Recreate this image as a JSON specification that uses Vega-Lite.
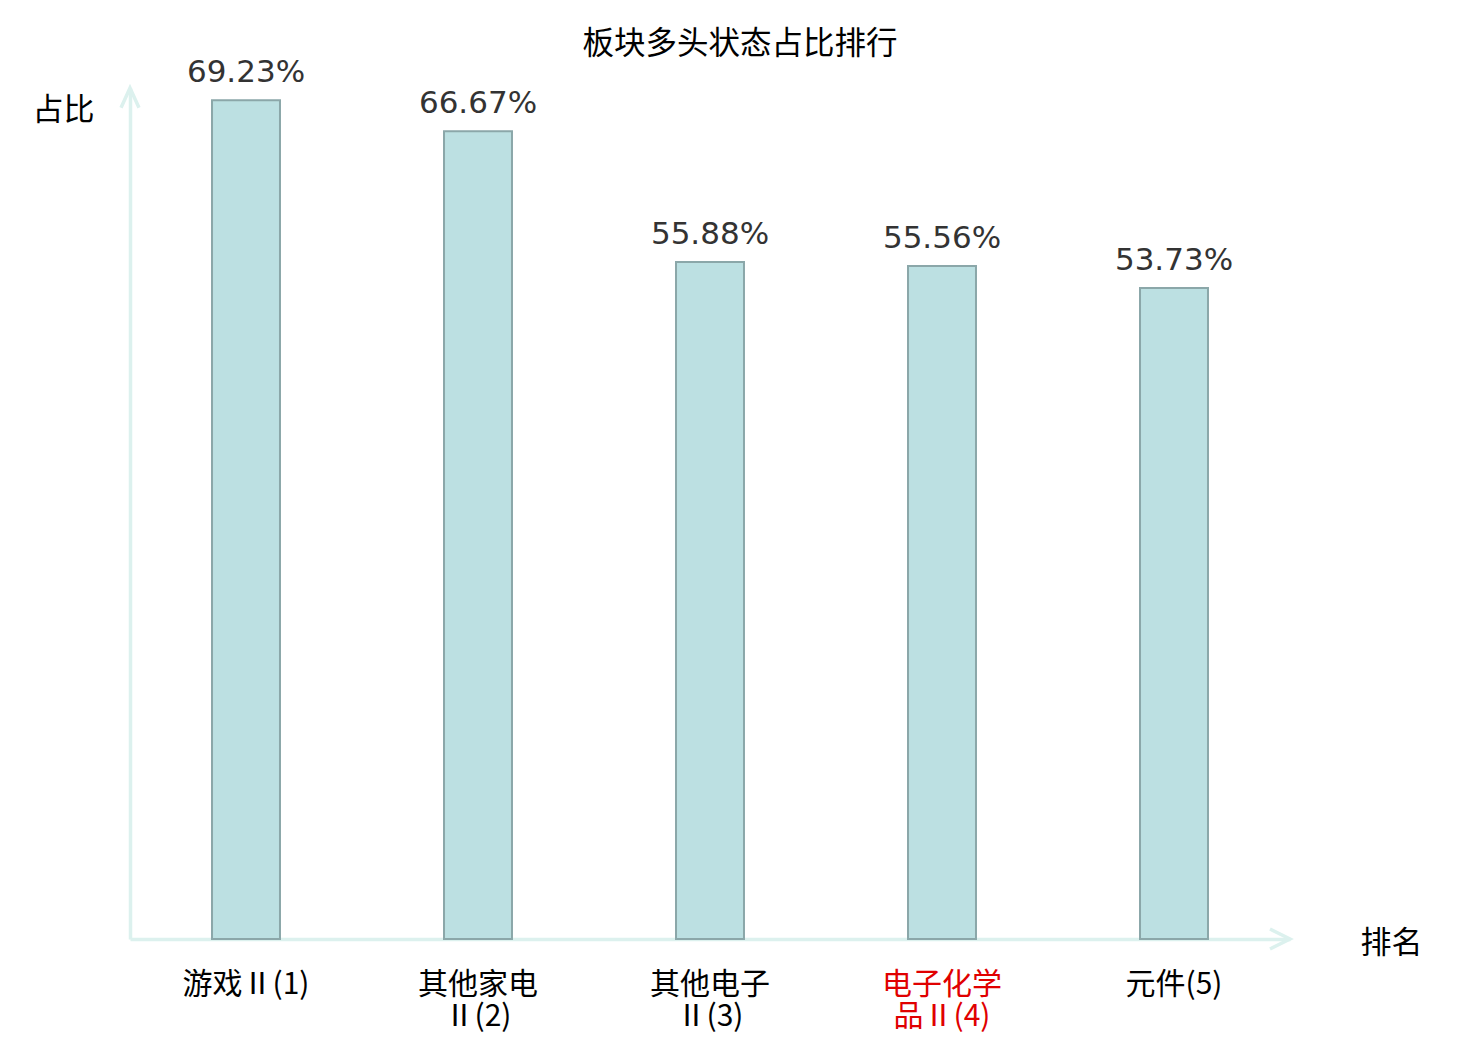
{
  "$schema": "https://vega.github.io/schema/vega-lite/v6.json",
  "autosize": "none",
  "width": 1160,
  "height": 851,
  "padding": {"left": 130, "top": 88, "right": 190, "bottom": 101},
  "background": "white",
  "config": {"view": {"stroke": null}, "font": "Noto Sans CJK SC"},
  "title": {
    "text": "板块多头状态占比排行",
    "anchor": "middle",
    "dx": 30,
    "fontSize": 31.5,
    "fontWeight": "normal",
    "font": "Noto Sans CJK SC",
    "color": "#000000",
    "offset": -3
  },
  "data": {
    "values": [
      {"name": "游戏Ⅱ(1)", "value": 69.23, "highlight": false},
      {"name": "其他家电Ⅱ(2)", "value": 66.67, "highlight": false},
      {"name": "其他电子Ⅱ(3)", "value": 55.88, "highlight": false},
      {"name": "电子化学品Ⅱ(4)", "value": 55.56, "highlight": true},
      {"name": "元件(5)", "value": 53.73, "highlight": false}
    ]
  },
  "layer": [
    {
      "mark": {"type": "bar", "fill": "#bce0e2", "stroke": "#8ba7a9", "strokeWidth": 2},
      "encoding": {
        "x": {
          "field": "name",
          "type": "nominal",
          "sort": null,
          "scale": {"paddingInner": 0.707, "paddingOuter": 0.3535},
          "axis": {
            "title": "排名",
            "titleFont": "Noto Sans CJK SC",
            "titleFontSize": 31,
            "titleFontWeight": "normal",
            "titleColor": "#000000",
            "titleAngle": 0,
            "titleAlign": "center",
            "titleBaseline": "middle",
            "titleX": 1261,
            "titleY": 4,
            "domainColor": "#dcf1ee",
            "domainWidth": 3.5,
            "ticks": false,
            "labelAngle": 0,
            "labelFont": "Noto Sans CJK SC",
            "labelFontSize": 30,
            "labelColor": {"condition": {"test": "datum.value == '电子化学品Ⅱ(4)'", "value": "#e00000"}, "value": "#000000"},
            "labelPadding": 30,
            "labelLineHeight": 32,
            "labelOverlap": false,
            "labelExpr": "length(datum.label) > 6 ? [substring(datum.label, 0, 4), substring(datum.label, 4)] : datum.label"
          }
        },
        "y": {
          "field": "value",
          "type": "quantitative",
          "scale": {"domain": [0, 70.25], "nice": false, "zero": true},
          "axis": {
            "title": "占比",
            "titleFont": "Noto Sans CJK SC",
            "titleFontSize": 31,
            "titleFontWeight": "normal",
            "titleColor": "#000000",
            "titleAngle": 0,
            "titleAlign": "center",
            "titleBaseline": "middle",
            "titleX": -67,
            "titleY": 22,
            "domainColor": "#dcf1ee",
            "domainWidth": 3.5,
            "ticks": false,
            "labels": false,
            "grid": false
          }
        }
      }
    },
    {
      "transform": [{"calculate": "format(datum.value, '.2f') + '%'", "as": "lbl"}],
      "mark": {"type": "text", "font": "DejaVu Sans", "fontSize": 31, "color": "#333333", "baseline": "alphabetic", "dy": -18},
      "encoding": {
        "x": {"field": "name", "type": "nominal", "sort": null},
        "y": {"field": "value", "type": "quantitative"},
        "text": {"field": "lbl", "type": "nominal"}
      }
    },
    {
      "data": {"values": [{"axis": "y"}]},
      "mark": {"type": "point", "shape": "M-1,2.2L0,0L1,2.2", "size": 324, "filled": false, "stroke": "#dcf1ee", "strokeWidth": 3.5, "opacity": 1},
      "encoding": {"x": {"value": 0}, "y": {"value": 0}}
    },
    {
      "data": {"values": [{"axis": "x"}]},
      "mark": {"type": "point", "shape": "M-2,-1L0,0L-2,1", "size": 400, "filled": false, "stroke": "#dcf1ee", "strokeWidth": 3.5, "opacity": 1},
      "encoding": {"x": {"value": "width"}, "y": {"value": "height"}}
    }
  ]
}
